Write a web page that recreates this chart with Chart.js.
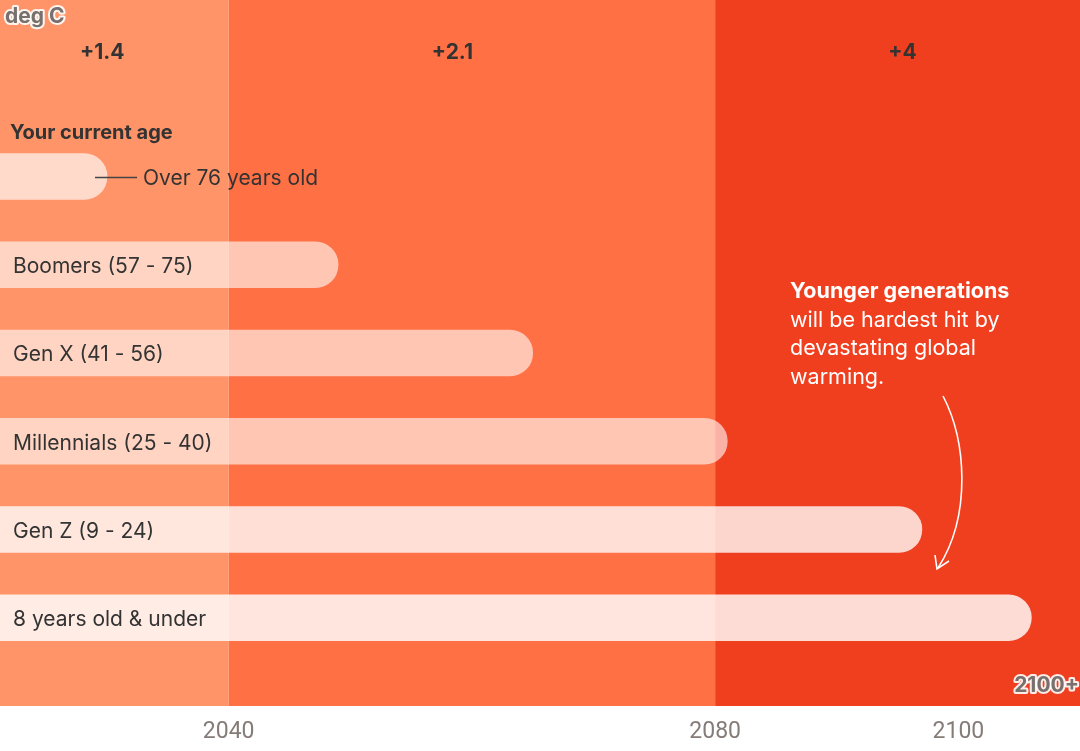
<!DOCTYPE html>
<html>
<head>
<meta charset="utf-8">
<script src="https://cdn.jsdelivr.net/npm/chart.js@4"></script>
<style>
body{margin:0;background:#fff}
#wrap{width:1080px;height:751px;position:relative}
</style>
</head>
<body>
<div id="wrap"><canvas id="ageChart"></canvas></div>
<script>
// generations and the year each one reaches (bar end)
const generations = ["Over 76 years old","Boomers (57 - 75)","Gen X (41 - 56)","Millennials (25 - 40)","Gen Z (9 - 24)","8 years old & under"]
const endYears = [2030, 2049, 2065, 2081, 2097, 2106]
const barAlpha = [0.66, 0.6, 0.6, 0.6, 0.78, 0.82]

// warming bands (deg C) by period
const bandStarts = [2021.2, 2040, 2080]
const bandEnds = [2040, 2080, 2110]
const bandLabels = ["+1.4", "+2.1", "+4"]
const bandLabelYears = [2029.6, 2058.4, 2095.4]
const bandColors = ["#ff9468", "#ff7045", "#f03f1f"]

const tickYears = [2040, 2080, 2100]
const xMin = 2021.2
const xMax = 2110

// two empty rows on top for the header and "Your current age"
const rowLabels = ["", ""].concat(generations, [""])
const rowValues = [null, null].concat(endYears, [null])
const rowColors = [null, null].concat(barAlpha.map(a => `rgba(255,255,255,${a})`), [null])

const FONT = "Inter, Roboto, sans-serif"

function haloText(ctx, txt, x, y){
ctx.lineJoin = "round"
ctx.strokeStyle = "rgba(255,255,255,0.9)"
ctx.lineWidth = 4
ctx.strokeText(txt, x, y)
ctx.fillStyle = "#77706d"
ctx.fillText(txt, x, y)
}

const bandsPlugin = {
id: "bands",
beforeDatasetsDraw(chart){
const {ctx, chartArea, scales:{x}} = chart
ctx.save()
bandStarts.forEach((s,i)=>{
const x0 = Math.max(chartArea.left, x.getPixelForValue(s))
const x1 = Math.min(chartArea.right, x.getPixelForValue(bandEnds[i]))
ctx.fillStyle = bandColors[i]
ctx.fillRect(x0, 0, x1 - x0, chartArea.bottom)
})
ctx.restore()
}
}

const labelsPlugin = {
id: "labels",
afterDatasetsDraw(chart){
const {ctx, chartArea, scales:{x, y}} = chart
ctx.save()
ctx.textBaseline = "middle"

// warming header
ctx.font = `bold 21px ${FONT}`
ctx.fillStyle = "#333"
ctx.textAlign = "center"
bandLabels.forEach((t,i)=>{
ctx.fillText(t, x.getPixelForValue(bandLabelYears[i]), y.getPixelForValue(0.57) + 2)
})

ctx.textAlign = "left"
ctx.font = `bold 20px ${FONT}`
ctx.fillText("Your current age", 10, y.getPixelForValue(1.5) + 1)

// bar labels
ctx.font = `21px ${FONT}`
generations.forEach((g,i)=>{
const cy = y.getPixelForValue(i + 2)
ctx.fillStyle = "#333"
if(i === 0){
const xe = x.getPixelForValue(endYears[i])
ctx.strokeStyle = "#444"
ctx.lineWidth = 1.5
ctx.beginPath()
ctx.moveTo(xe - 12, cy + 1)
ctx.lineTo(xe + 30, cy + 1)
ctx.stroke()
ctx.fillText(g, xe + 36, cy + 2)
} else {
ctx.fillText(g, 13, cy + 2)
}
})

// annotation
ctx.fillStyle = "#fff"
ctx.font = `bold 21.5px ${FONT}`
ctx.fillText("Younger generations", 790, 292)
ctx.font = `21.5px ${FONT}`
ctx.fillText("will be hardest hit by", 790, 321)
ctx.fillText("devastating global", 790, 349)
ctx.fillText("warming.", 790, 378)

ctx.strokeStyle = "#fff"
ctx.lineWidth = 1.6
ctx.beginPath()
ctx.moveTo(943, 396)
ctx.bezierCurveTo(966, 440, 972, 515, 938, 568)
ctx.stroke()
ctx.beginPath()
ctx.moveTo(935, 555)
ctx.lineTo(937, 569)
ctx.lineTo(949, 561)
ctx.stroke()

// unit and end labels
ctx.font = `bold 21px ${FONT}`
ctx.textAlign = "left"
haloText(ctx, "deg C", 5, 17)
ctx.textAlign = "right"
haloText(ctx, "2100+", 1079, chartArea.bottom - 20)
ctx.restore()
}
}

new Chart(document.getElementById("ageChart"),{
type: "bar",
data:{
labels: rowLabels,
datasets:[{
data: rowValues,
base: xMin,
backgroundColor: rowColors,
borderWidth: 0,
borderRadius: 30,
borderSkipped: "start",
barThickness: 46
}]
},
options:{
indexAxis: "y",
responsive: true,
maintainAspectRatio: false,
animation: false,
layout:{ padding: 0 },
plugins:{
legend:{ display:false },
tooltip:{ enabled:false }
},
scales:{
x:{
type: "linear",
min: xMin,
max: xMax,
grid:{ display:false, drawTicks:false },
border:{ display:false },
afterBuildTicks(scale){
scale.ticks = tickYears.map(v => ({value: v}))
},
afterFit(scale){
scale.height = 45
},
ticks:{
color: "#857c78",
font:{ family: "Roboto, sans-serif", size: 23 },
padding: 12,
maxRotation: 0,
autoSkip: false,
callback: v => String(v)
}
},
y:{
type: "category",
offset: false,
display: false,
grid:{ display:false }
}
}
},
plugins:[bandsPlugin, labelsPlugin]
})
</script>
</body>
</html>
